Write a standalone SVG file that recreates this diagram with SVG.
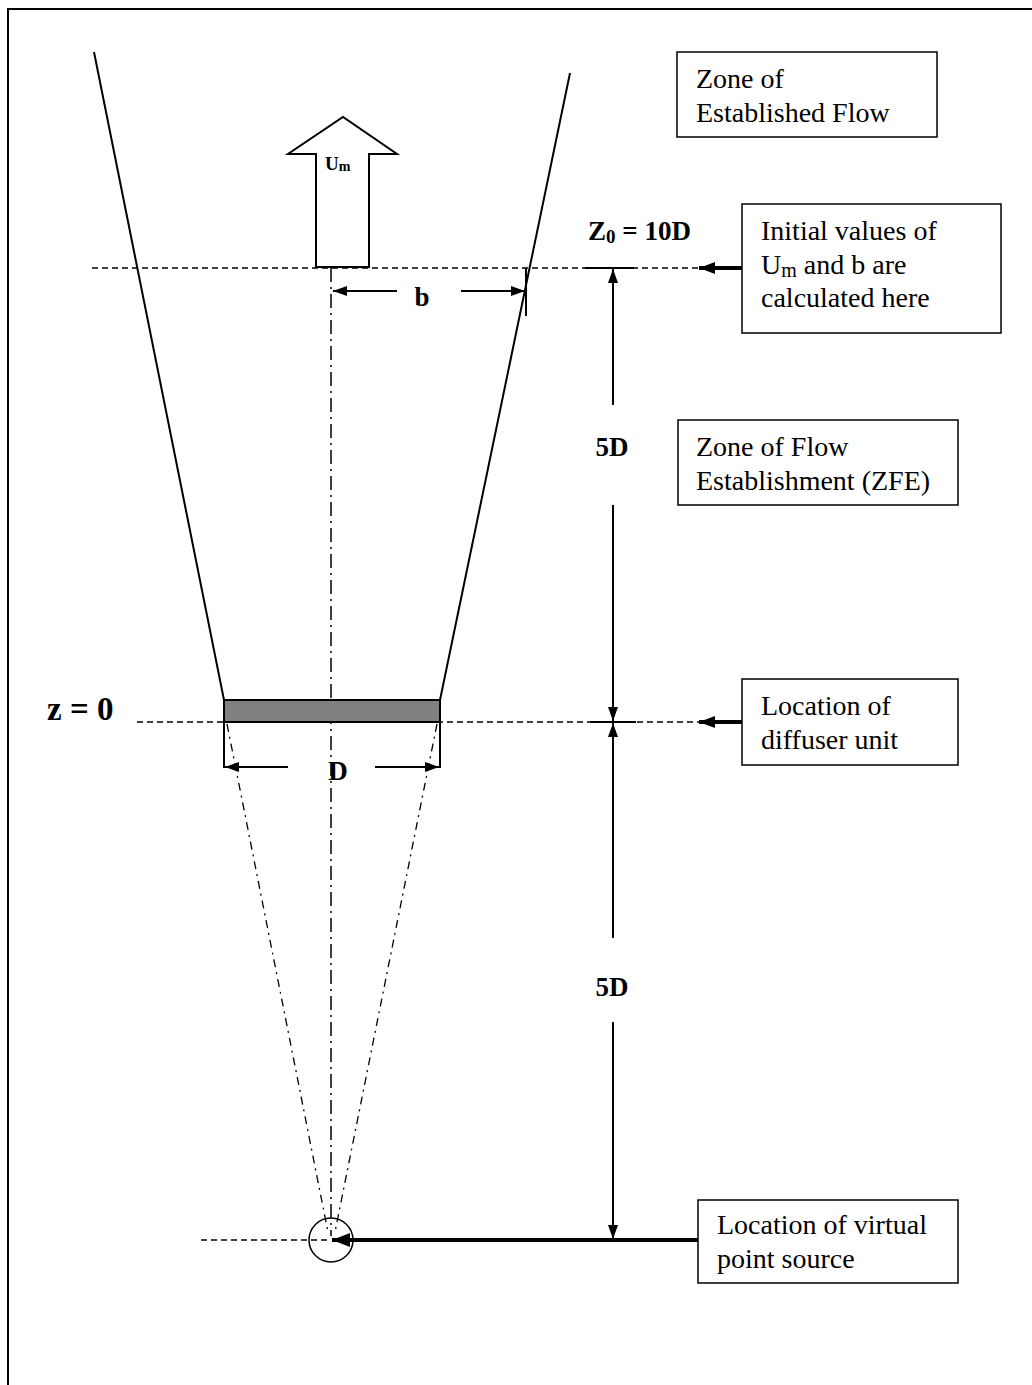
<svg xmlns="http://www.w3.org/2000/svg" width="1032" height="1385" viewBox="0 0 1032 1385">
<style>
.ln{stroke:#000;stroke-width:2;fill:none}
.dash{stroke:#000;stroke-width:1.5;fill:none;stroke-dasharray:6 4}
.cl{stroke:#000;stroke-width:1.5;fill:none;stroke-dasharray:14 5 2 5}
.dd{stroke:#000;stroke-width:1.3;fill:none;stroke-dasharray:8 5 2 5}
.thick{stroke:#000;stroke-width:4;fill:none}
.box{fill:#fff;stroke:#000;stroke-width:1.5}
.t{font-family:"Liberation Serif","Times New Roman",serif;font-size:28px;fill:#000}
.b{font-family:"Liberation Serif","Times New Roman",serif;font-weight:bold;fill:#000}
</style>
<defs>
<marker id="ah" viewBox="0 0 14 10" refX="14" refY="5" markerWidth="14" markerHeight="10" markerUnits="userSpaceOnUse" orient="auto"><path d="M0,0 L14,5 L0,10 z" fill="#000"/></marker>
<marker id="ahL" viewBox="0 0 18 14" refX="18" refY="7" markerWidth="18" markerHeight="14" markerUnits="userSpaceOnUse" orient="auto"><path d="M0,0 L18,7 L0,14 z" fill="#000"/></marker>
<marker id="ahT" viewBox="0 0 16 12" refX="16" refY="6" markerWidth="16" markerHeight="12" markerUnits="userSpaceOnUse" orient="auto"><path d="M0,0 L16,6 L0,12 z" fill="#000"/></marker>
</defs>
<rect width="1032" height="1385" fill="#fff"/>
<!-- page border -->
<path d="M8,1385 V9 H1032" stroke="#000" stroke-width="2" fill="none"/>

<g id="connectors">
<!-- plume edges -->
<line class="ln" x1="94" y1="52" x2="224" y2="700"/>
<line class="ln" x1="570" y1="73" x2="440" y2="700"/>
<!-- level lines -->
<line class="dash" x1="92" y1="268" x2="699" y2="268"/>
<line class="ln" x1="585" y1="268" x2="634" y2="268"/>
<line class="dash" x1="137" y1="722" x2="699" y2="722"/>
<line class="ln" x1="590" y1="722" x2="636" y2="722"/>
<line class="dash" x1="201" y1="1240" x2="331" y2="1240"/>
<!-- centre line -->
<line class="cl" x1="331" y1="268" x2="331" y2="1236"/>
<!-- virtual cone -->
<line class="dd" x1="227" y1="724" x2="328" y2="1232"/>
<line class="dd" x1="437" y1="724" x2="335" y2="1232"/>
<!-- b dimension -->
<line class="ln" x1="526" y1="268" x2="526" y2="316"/>
<line class="ln" x1="397" y1="291" x2="333" y2="291" marker-end="url(#ah)"/>
<line class="ln" x1="461" y1="291" x2="525" y2="291" marker-end="url(#ah)"/>
<!-- D dimension -->
<line class="ln" x1="224" y1="722" x2="224" y2="768"/>
<line class="ln" x1="440" y1="722" x2="440" y2="768"/>
<line class="ln" x1="288" y1="767" x2="225" y2="767" marker-end="url(#ah)"/>
<line class="ln" x1="375" y1="767" x2="439" y2="767" marker-end="url(#ah)"/>
<!-- vertical dimension 5D upper -->
<line class="ln" x1="613" y1="405" x2="613" y2="269" marker-end="url(#ah)"/>
<line class="ln" x1="613" y1="505" x2="613" y2="721" marker-end="url(#ah)"/>
<!-- vertical dimension 5D lower -->
<line class="ln" x1="613" y1="938" x2="613" y2="723" marker-end="url(#ah)"/>
<line class="ln" x1="613" y1="1022" x2="613" y2="1239" marker-end="url(#ah)"/>
<!-- pointer arrows -->
<line class="thick" x1="742" y1="268" x2="699" y2="268" marker-end="url(#ahT)"/>
<line class="thick" x1="742" y1="722" x2="699" y2="722" marker-end="url(#ahT)"/>
<line class="thick" x1="698" y1="1240" x2="332" y2="1240" marker-end="url(#ahL)"/>
</g>

<g id="jet-arrow">
<path d="M316,267 V154 H288 L343,117 L397,154 H369 V267 Z" fill="#fff" stroke="#000" stroke-width="2" stroke-linejoin="miter"/>
<text class="b" x="325" y="170" font-size="19">U<tspan font-size="14" dy="1">m</tspan></text>
</g>

<g id="diffuser">
<rect x="224" y="700" width="216" height="22" fill="#808080" stroke="#000" stroke-width="2"/>
</g>

<g id="virtual-source">
<circle cx="331" cy="1240" r="22" fill="none" stroke="#000" stroke-width="1.5"/>
</g>

<g id="labels">
<text class="b" x="47" y="720" font-size="33">z = 0</text>
<text class="b" x="588" y="240" font-size="27">Z<tspan font-size="19" dy="3">0</tspan><tspan dy="-3"> = 10D</tspan></text>
<text class="b" x="612" y="456" font-size="27" text-anchor="middle">5D</text>
<text class="b" x="612" y="996" font-size="27" text-anchor="middle">5D</text>
<text class="b" x="422" y="306" font-size="27" text-anchor="middle">b</text>
<text class="b" x="338" y="780" font-size="27" text-anchor="middle">D</text>
</g>

<g id="box-established">
<rect class="box" x="677" y="52" width="260" height="85"/>
<text class="t" x="696" y="88">Zone of</text>
<text class="t" x="696" y="122">Established Flow</text>
</g>

<g id="box-initial">
<rect class="box" x="742" y="204" width="259" height="129"/>
<text class="t" x="761" y="240">Initial values of</text>
<text class="t" x="761" y="274">U<tspan font-size="20" dy="3">m</tspan><tspan dy="-3"> and b are</tspan></text>
<text class="t" x="761" y="307">calculated here</text>
</g>

<g id="box-zfe">
<rect class="box" x="678" y="420" width="280" height="85"/>
<text class="t" x="696" y="456">Zone of Flow</text>
<text class="t" x="696" y="490">Establishment (ZFE)</text>
</g>

<g id="box-diffuser">
<rect class="box" x="742" y="679" width="216" height="86"/>
<text class="t" x="761" y="715">Location of</text>
<text class="t" x="761" y="749">diffuser unit</text>
</g>

<g id="box-virtual">
<rect class="box" x="698" y="1200" width="260" height="83"/>
<text class="t" x="717" y="1234">Location of virtual</text>
<text class="t" x="717" y="1268">point source</text>
</g>
</svg>
